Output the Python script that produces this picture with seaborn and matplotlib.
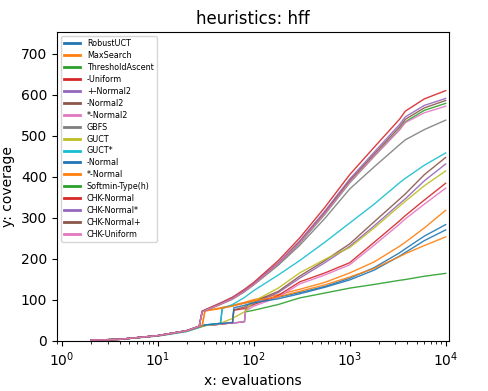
import matplotlib
matplotlib.use("Agg")
import matplotlib.pyplot as plt
import pandas as pd
import seaborn as sns

# shared evaluation grid (x axis)
evaluations = [2, 4, 10, 20, 27, 29, 31, 45, 47, 60, 62, 80, 82, 100, 180, 300,
               550, 1000, 1800, 3300, 3800, 6000, 10000]

series_names = ["RobustUCT", "MaxSearch", "ThresholdAscent", "-Uniform", "+-Normal2",
                "-Normal2", "*-Normal2", "GBFS", "GUCT", "GUCT*", "-Normal", "*-Normal",
                "Softmin-Type(h)", "CHK-Normal", "CHK-Normal*", "CHK-Normal+", "CHK-Uniform"]

robust_uct = [1, 3, 12, 24, 34, 36, 38, 42, 80, 85, 86, 92, 92, 96, 106, 117, 132, 152, 178, 214, 224, 255, 283]
max_search = [1, 3, 12, 24, 34, 36, 73, 80, 81, 86, 87, 93, 94, 100, 112, 125, 142, 165, 192, 230, 240, 275, 318]
threshold_ascent = [1, 3, 12, 24, 33, 35, 37, 40, 41, 43, 43, 46, 70, 74, 88, 104, 116, 128, 137, 147, 149, 157, 164]
uniform = [1, 3, 12, 24, 33, 35, 37, 40, 41, 43, 74, 78, 79, 88, 110, 143, 165, 190, 240, 292, 305, 343, 384]
pm_normal2 = [1, 3, 12, 24, 33, 35, 37, 40, 41, 43, 43, 46, 76, 92, 117, 152, 190, 230, 280, 334, 346, 390, 431]
m_normal2 = [1, 3, 12, 24, 33, 35, 37, 40, 41, 43, 75, 82, 83, 95, 120, 157, 195, 236, 290, 345, 358, 405, 447]
star_normal2 = [1, 3, 12, 24, 33, 35, 37, 40, 41, 43, 43, 46, 72, 84, 106, 138, 160, 185, 233, 284, 297, 333, 372]
gbfs = [1, 3, 12, 24, 35, 70, 73, 88, 90, 101, 103, 119, 121, 136, 184, 232, 298, 370, 424, 478, 490, 515, 538]
guct = [1, 3, 11, 22, 32, 34, 36, 42, 44, 54, 56, 70, 72, 96, 128, 165, 198, 227, 275, 328, 340, 378, 414]
guct_star = [1, 3, 11, 22, 32, 35, 38, 42, 78, 88, 90, 105, 107, 122, 160, 195, 240, 287, 333, 385, 396, 428, 458]
m_normal = [1, 3, 12, 24, 34, 36, 38, 42, 42, 44, 80, 86, 87, 92, 102, 114, 130, 148, 172, 206, 215, 244, 270]
star_normal = [1, 3, 12, 24, 34, 36, 72, 78, 79, 84, 85, 91, 92, 97, 107, 120, 136, 155, 176, 205, 212, 232, 253]
softmin = [1, 3, 12, 24, 35, 70, 73, 89, 91, 102, 104, 120, 122, 137, 186, 237, 308, 385, 450, 515, 534, 562, 579]
chk_normal = [1, 3, 12, 24, 35, 72, 75, 92, 94, 106, 108, 125, 127, 142, 195, 250, 325, 405, 472, 540, 560, 590, 610]
chk_normal_star = [1, 3, 12, 24, 35, 71, 74, 90, 92, 104, 106, 122, 124, 139, 190, 243, 316, 394, 460, 527, 546, 574, 591]
chk_normal_plus = [1, 3, 12, 24, 35, 71, 74, 90, 92, 103, 105, 121, 123, 138, 188, 240, 312, 390, 455, 521, 540, 568, 586]
chk_uniform = [1, 3, 12, 24, 35, 70, 73, 89, 91, 102, 104, 120, 122, 137, 187, 238, 309, 386, 450, 514, 532, 556, 572]

all_values = [robust_uct, max_search, threshold_ascent, uniform, pm_normal2, m_normal2,
              star_normal2, gbfs, guct, guct_star, m_normal, star_normal, softmin,
              chk_normal, chk_normal_star, chk_normal_plus, chk_uniform]

rows = []
for name, vals in zip(series_names, all_values):
    for xv, yv in zip(evaluations, vals):
        rows.append({"series": name, "evaluations": xv, "coverage": yv})
df = pd.DataFrame(rows)

tab10 = sns.color_palette("tab10")
palette = {name: tab10[i % 10] for i, name in enumerate(series_names)}

fig = plt.figure(figsize=(4.88, 3.91), dpi=100)
ax = fig.add_axes([0.1168, 0.129, 0.803, 0.789])
sns.lineplot(data=df, x="evaluations", y="coverage", hue="series", hue_order=series_names,
             palette=palette, estimator=None, linewidth=1.0, alpha=0.9, ax=ax)
ax.set_xscale("log")
ax.set_xlim(0.89, 1.08e4)
ax.set_ylim(0, 753)
ax.set_xlabel("x: evaluations")
ax.set_ylabel("y: coverage")
ax.set_title("heuristics: hff", fontsize=12)

handles, labels = ax.get_legend_handles_labels()
leg = ax.legend(handles, labels, loc="upper left", fontsize=5.8, labelspacing=0.36)
for h in leg.get_lines():
    h.set_linewidth(2.0)
    h.set_alpha(1.0)

fig.savefig("out.png", dpi=100)
